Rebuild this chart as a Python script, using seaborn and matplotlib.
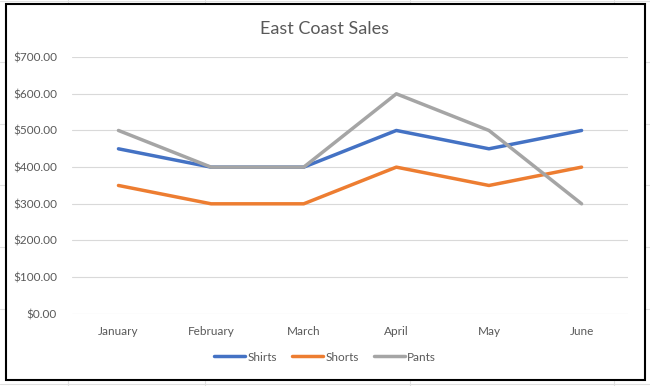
import matplotlib
matplotlib.use("Agg")
import matplotlib.pyplot as plt
import seaborn as sns
import pandas as pd
from matplotlib.patches import Rectangle
from matplotlib.ticker import FuncFormatter

months = ["January", "February", "March", "April", "May", "June"]
shirts = [450, 400, 400, 500, 450, 500]
shorts = [350, 300, 300, 400, 350, 400]
pants = [500, 400, 400, 600, 500, 300]
series_names = ["Shirts", "Shorts", "Pants"]
colors = ["#4472C4", "#ED7D31", "#A5A5A5"]

df = pd.DataFrame({"Month": months, "Shirts": shirts, "Shorts": shorts, "Pants": pants})
long_df = df.melt(id_vars="Month", var_name="Item", value_name="Sales")

sns.set_style("white")
plt.rcParams["font.family"] = ["Lato", "DejaVu Sans"]

fig = plt.figure(figsize=(6.5, 3.86), dpi=100)
ax = fig.add_axes([0.111, 0.187, 0.855, 0.665])

sns.lineplot(data=long_df, x="Month", y="Sales", hue="Item", hue_order=series_names,
             palette=colors, linewidth=2.5, sort=False, ax=ax)

ax.set_xlim(-0.5, 5.5)
ax.set_ylim(0, 700)
ax.set_yticks(range(0, 701, 100))
ax.yaxis.set_major_formatter(FuncFormatter(lambda v, p: f"${v:,.2f}"))
ax.grid(axis="y", color="#D9D9D9", linewidth=0.8)
ax.set_axisbelow(True)
for s in ax.spines.values():
    s.set_visible(False)
ax.tick_params(axis="both", length=0, labelsize=8.5, labelcolor="#595959")
ax.tick_params(axis="y", pad=11)
ax.tick_params(axis="x", pad=9)
ax.set_xlabel("")
ax.set_ylabel("")

fig.text(0.5, 0.925, "East Coast Sales", ha="center", va="center",
         fontsize=13, color="#595959")

handles, labels = ax.get_legend_handles_labels()
ax.get_legend().remove()
fig.legend(handles, labels, loc="center", bbox_to_anchor=(0.5, 0.075), ncol=3,
           frameon=False, fontsize=8.5, labelcolor="#595959", handlelength=2.6,
           handletextpad=0.2, columnspacing=1.3)

# cell grid outside the chart, as in the spreadsheet
for x in [0.105, 0.315, 0.63, 0.945]:
    fig.add_artist(plt.Line2D([x, x], [0, 1], color="#E0E0E0", linewidth=0.8, zorder=0))
for y in [0.005, 0.2, 0.36, 0.52, 0.68, 0.84, 0.997]:
    fig.add_artist(plt.Line2D([0, 1], [y, y], color="#E0E0E0", linewidth=0.8, zorder=0))
fig.add_artist(Rectangle((0.009, 0.016), 0.983, 0.973, transform=fig.transFigure,
                         facecolor="white", edgecolor="black", linewidth=1.5, zorder=0.5))
ax.set_zorder(2)
ax.patch.set_alpha(0)

fig.savefig("out.png", dpi=100)
